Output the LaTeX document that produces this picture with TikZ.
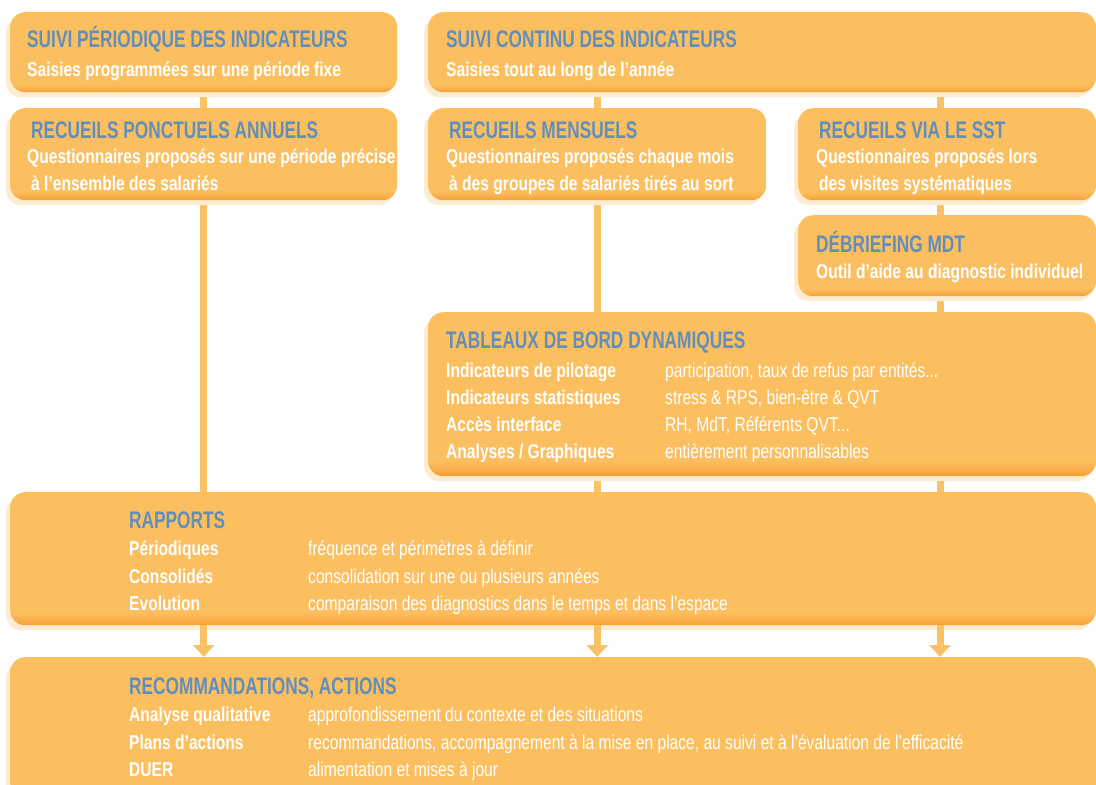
\documentclass[tikz,border=0pt]{standalone}
\usepackage{fontspec}
\setmainfont{Liberation Sans}[FakeStretch=0.78]
\newfontfamily\ttlfam{Liberation Sans}[FakeStretch=0.72]
\usetikzlibrary{arrows.meta}
\usetikzlibrary{shadows}
\usetikzlibrary{backgrounds}

\definecolor{boxfill}{RGB}{252,191,96}
\definecolor{boxdark}{RGB}{247,158,48}
\definecolor{glow}{RGB}{254,236,208}
\definecolor{titleblue}{RGB}{98,142,188}
\definecolor{linkcol}{RGB}{251,193,102}

\pgfdeclareverticalshading{boxshade}{100bp}{color(0bp)=(boxdark); color(25bp)=(boxdark); color(27bp)=(boxdark!50!boxfill); color(30bp)=(boxfill); color(100bp)=(boxfill)}

\newcommand\ttlfont{\ttlfam\fontsize{24}{24}\selectfont\bfseries}
\newcommand\txtfont{\fontsize{20}{20}\selectfont\bfseries}
\newcommand\valfont{\fontsize{20}{20}\selectfont}

\begin{document}
\begin{tikzpicture}[x=1pt,y=-1pt,
	box/.style={rectangle, rounded corners=15pt, shading=boxshade, anchor=north west, inner sep=0pt,
		general shadow={fill=glow, shadow xshift=-4pt, shadow yshift=-5pt}},
	ttl/.style={anchor=base west, inner sep=0pt, text=titleblue, font=\ttlfont},
	txt/.style={anchor=base west, inner sep=0pt, text=white, font=\txtfont},
	val/.style={anchor=base west, inner sep=0pt, text=white, font=\valfont},
	link/.style={draw=linkcol, line width=7pt},
	flow/.style={link, -{Triangle[width=21pt,length=12pt]}}]
	\useasboundingbox (0,0) rectangle (1096,785);
	\clip (0,0) rectangle (1096,785);
	
	% boxes
	\node[box, minimum width=387pt, minimum height=80pt] (periodique) at (10,12) {};
	\node[box, minimum width=668pt, minimum height=80pt] (continu) at (428,12) {};
	\node[box, minimum width=387pt, minimum height=92pt] (ponctuels) at (10,108) {};
	\node[box, minimum width=338pt, minimum height=92pt] (mensuels) at (428,108) {};
	\node[box, minimum width=298pt, minimum height=92pt] (sst) at (798,108) {};
	\node[box, minimum width=298pt, minimum height=81pt] (debrief) at (798,215) {};
	\node[box, minimum width=668pt, minimum height=164pt] (tableaux) at (428,312) {};
	\node[box, minimum width=1086pt, minimum height=133pt] (rapports) at (10,492) {};
	\node[box, minimum width=1086pt, minimum height=140pt] (actions) at (10,657) {};
	\coordinate (rx) at (940,0);
	
	% connectors
	\begin{scope}[on background layer]
	\fill[white] (0,0) rectangle (1096,785);
	\draw[link] (periodique.south) -- (ponctuels.north);
	\draw[link] (ponctuels.south) -- (ponctuels.south |- rapports.north);
	\draw[link] (mensuels.north |- continu.south) -- (mensuels.north);
	\draw[link] (mensuels.south) -- (mensuels.south |- tableaux.north);
	\draw[link] (mensuels.south |- tableaux.south) -- (mensuels.south |- rapports.north);
	\draw[link] (rx |- continu.south) -- (rx |- sst.north);
	\draw[link] (rx |- sst.south) -- (rx |- debrief.north);
	\draw[link] (rx |- debrief.south) -- (rx |- tableaux.north);
	\draw[link] (rx |- tableaux.south) -- (rx |- rapports.north);
	\end{scope}
	\draw[flow] (rapports.south -| ponctuels.south) -- (actions.north -| ponctuels.south);
	\draw[flow] (rapports.south -| mensuels.south) -- (actions.north -| mensuels.south);
	\draw[flow] (rapports.south -| rx) -- (actions.north -| rx);
	
	% texts
	\node[ttl] (periodiqueT) at (27,47) {SUIVI PÉRIODIQUE DES INDICATEURS};
	\node[txt] (periodiqueS) at (27,76) {Saisies programmées sur une période fixe};
	\node[ttl] (continuT) at (446,47) {SUIVI CONTINU DES INDICATEURS};
	\node[txt] (continuS) at (446,76) {Saisies tout au long de l’année};
	
	\node[ttl] (ponctuelsT) at (31,138) {RECUEILS PONCTUELS ANNUELS};
	\node[txt] (ponctuelsA) at (27,163) {Questionnaires proposés sur une période précise};
	\node[txt] (ponctuelsB) at (31,190) {à l’ensemble des salariés};
	\node[ttl] (mensuelsT) at (449,138) {RECUEILS MENSUELS};
	\node[txt] (mensuelsA) at (446,163) {Questionnaires proposés chaque mois};
	\node[txt] (mensuelsB) at (449,190) {à des groupes de salariés tirés au sort};
	\node[ttl] (sstT) at (819,138) {RECUEILS VIA LE SST};
	\node[txt] (sstA) at (816,163) {Questionnaires proposés lors};
	\node[txt] (sstB) at (819,190) {des visites systématiques};
	
	\node[ttl] (debriefT) at (816,252) {DÉBRIEFING MDT};
	\node[txt] (debriefS) at (816,278) {Outil d’aide au diagnostic individuel};
	
	\node[ttl] (tableauxT) at (446,348) {TABLEAUX DE BORD DYNAMIQUES};
	\node[txt] at (446,377) {Indicateurs de pilotage};
	\node[val] at (665,377) {participation, taux de refus par entités...};
	\node[txt] at (446,404) {Indicateurs statistiques};
	\node[val] at (665,404) {stress \& RPS, bien-être \& QVT};
	\node[txt] at (446,431) {Accès interface};
	\node[val] at (665,431) {RH, MdT, Référents QVT...};
	\node[txt] at (446,458) {Analyses / Graphiques};
	\node[val] at (665,458) {entièrement personnalisables};
	
	\node[ttl] (rapportsT) at (129,528) {RAPPORTS};
	\node[txt] at (129,555) {Périodiques};
	\node[val] at (308,555) {fréquence et périmètres à définir};
	\node[txt] at (129,583) {Consolidés};
	\node[val] at (308,583) {consolidation sur une ou plusieurs années};
	\node[txt] at (129,610) {Evolution};
	\node[val] at (308,610) {comparaison des diagnostics dans le temps et dans l’espace};
	
	\node[ttl] (actionsT) at (129,694) {RECOMMANDATIONS, ACTIONS};
	\node[txt] at (129,721) {Analyse qualitative};
	\node[val] at (308,721) {approfondissement du contexte et des situations};
	\node[txt] at (129,749) {Plans d’actions};
	\node[val] at (308,749) {recommandations, accompagnement à la mise en place, au suivi et à l’évaluation de l’efficacité};
	\node[txt] at (129,776) {DUER};
	\node[val] at (308,776) {alimentation et mises à jour};
\end{tikzpicture}
\end{document}
